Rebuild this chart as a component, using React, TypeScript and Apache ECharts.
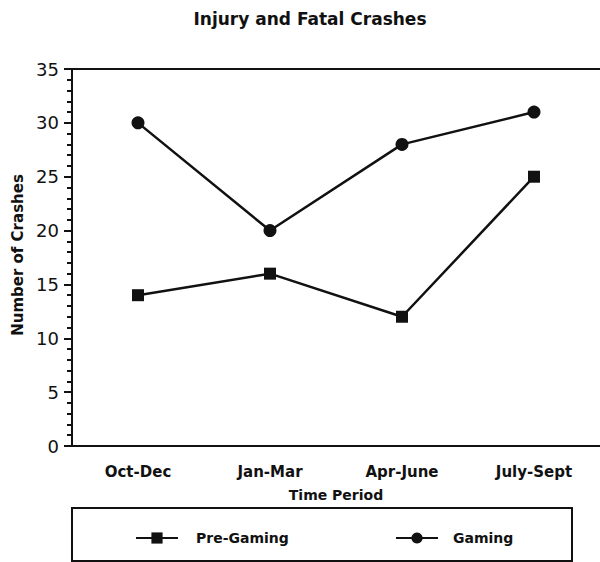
import React, { useEffect, useRef } from "react";
import * as echarts from "echarts";

const categories = ["Oct-Dec", "Jan-Mar", "Apr-June", "July-Sept"];
const preGaming = [14, 16, 12, 25];
const gaming = [30, 20, 28, 31];
const titleText = "Injury and Fatal Crashes";
const yName = "Number of Crashes";
const xName = "Time Period";

const FONT = "DejaVu Sans";

export default function App() {
  const ref = useRef<HTMLDivElement>(null);
  useEffect(() => {
    if (!ref.current) return;
    const chart = echarts.init(ref.current, null, { renderer: "svg" });
    chart.setOption({
      animation: false,
      backgroundColor: "#fff",
      grid: {
        left: 72,
        right: -4,
        top: 69,
        bottom: 116,
        show: false,
      },
      xAxis: {
        type: "category",
        data: categories,
        boundaryGap: true,
        axisLine: { show: true, lineStyle: { color: "#111", width: 2 } },
        axisTick: { show: false },
        axisLabel: {
          color: "#111",
          fontFamily: FONT,
          fontWeight: "bold",
          fontSize: 15,
          margin: 18,
        },
        name: xName,
        nameLocation: "middle",
        nameGap: 42,
        nameTextStyle: {
          color: "#111",
          fontFamily: FONT,
          fontWeight: "bold",
          fontSize: 14,
        },
        splitLine: { show: false },
      },
      yAxis: {
        type: "value",
        min: 0,
        max: 35,
        interval: 5,
        axisLine: { show: true, lineStyle: { color: "#111", width: 2 } },
        axisTick: { show: true, length: 8, lineStyle: { color: "#111", width: 2 } },
        minorTick: { show: true, splitNumber: 5, length: 5, lineStyle: { color: "#111", width: 2 } },
        axisLabel: {
          color: "#111",
          fontFamily: FONT,
          fontSize: 18,
          margin: 13,
        },
        splitLine: { show: false },
      },
      legend: [
        {
          data: ["Pre-Gaming"],
          left: 130,
          top: 526,
          itemWidth: 42,
          itemHeight: 14,
          textStyle: {
            color: "#111",
            fontFamily: FONT,
            fontWeight: "bold",
            fontSize: 14,
            padding: [0, 0, 0, 13],
          },
        },
        {
          data: ["Gaming"],
          left: 390,
          top: 526,
          itemWidth: 42,
          itemHeight: 14,
          textStyle: {
            color: "#111",
            fontFamily: FONT,
            fontWeight: "bold",
            fontSize: 14,
            padding: [0, 0, 0, 10],
          },
        },
      ],
      graphic: [
        {
          type: "text",
          x: 310,
          y: 10,
          style: {
            text: titleText,
            fill: "#111",
            font: `bold 17px "${FONT}"`,
            textAlign: "center",
            textVerticalAlign: "top",
          },
        },
        {
          type: "text",
          x: 18,
          y: 255,
          rotation: Math.PI / 2,
          style: {
            text: yName,
            fill: "#111",
            font: `bold 15px "${FONT}"`,
            textAlign: "center",
            textVerticalAlign: "middle",
          },
        },
        {
          type: "line",
          shape: { x1: 72, y1: 69, x2: 600, y2: 69 },
          style: { stroke: "#111", lineWidth: 2 },
        },
        {
          type: "rect",
          shape: { x: 72, y: 508, width: 500, height: 53 },
          style: { fill: "none", stroke: "#111", lineWidth: 2 },
        },
      ],
      series: [
        {
          name: "Pre-Gaming",
          type: "line",
          data: preGaming,
          symbol: "rect",
          symbolSize: 12,
          lineStyle: { color: "#111", width: 2.5 },
          itemStyle: { color: "#111" },
        },
        {
          name: "Gaming",
          type: "line",
          data: gaming,
          symbol: "circle",
          symbolSize: 13,
          lineStyle: { color: "#111", width: 2.5 },
          itemStyle: { color: "#111" },
        },
      ],
    });
    return () => chart.dispose();
  }, []);
  return (
    <div
      ref={ref}
      style={{ position: "fixed", left: 0, top: 0, width: 600, height: 562, background: "#fff" }}
    />
  );
}
